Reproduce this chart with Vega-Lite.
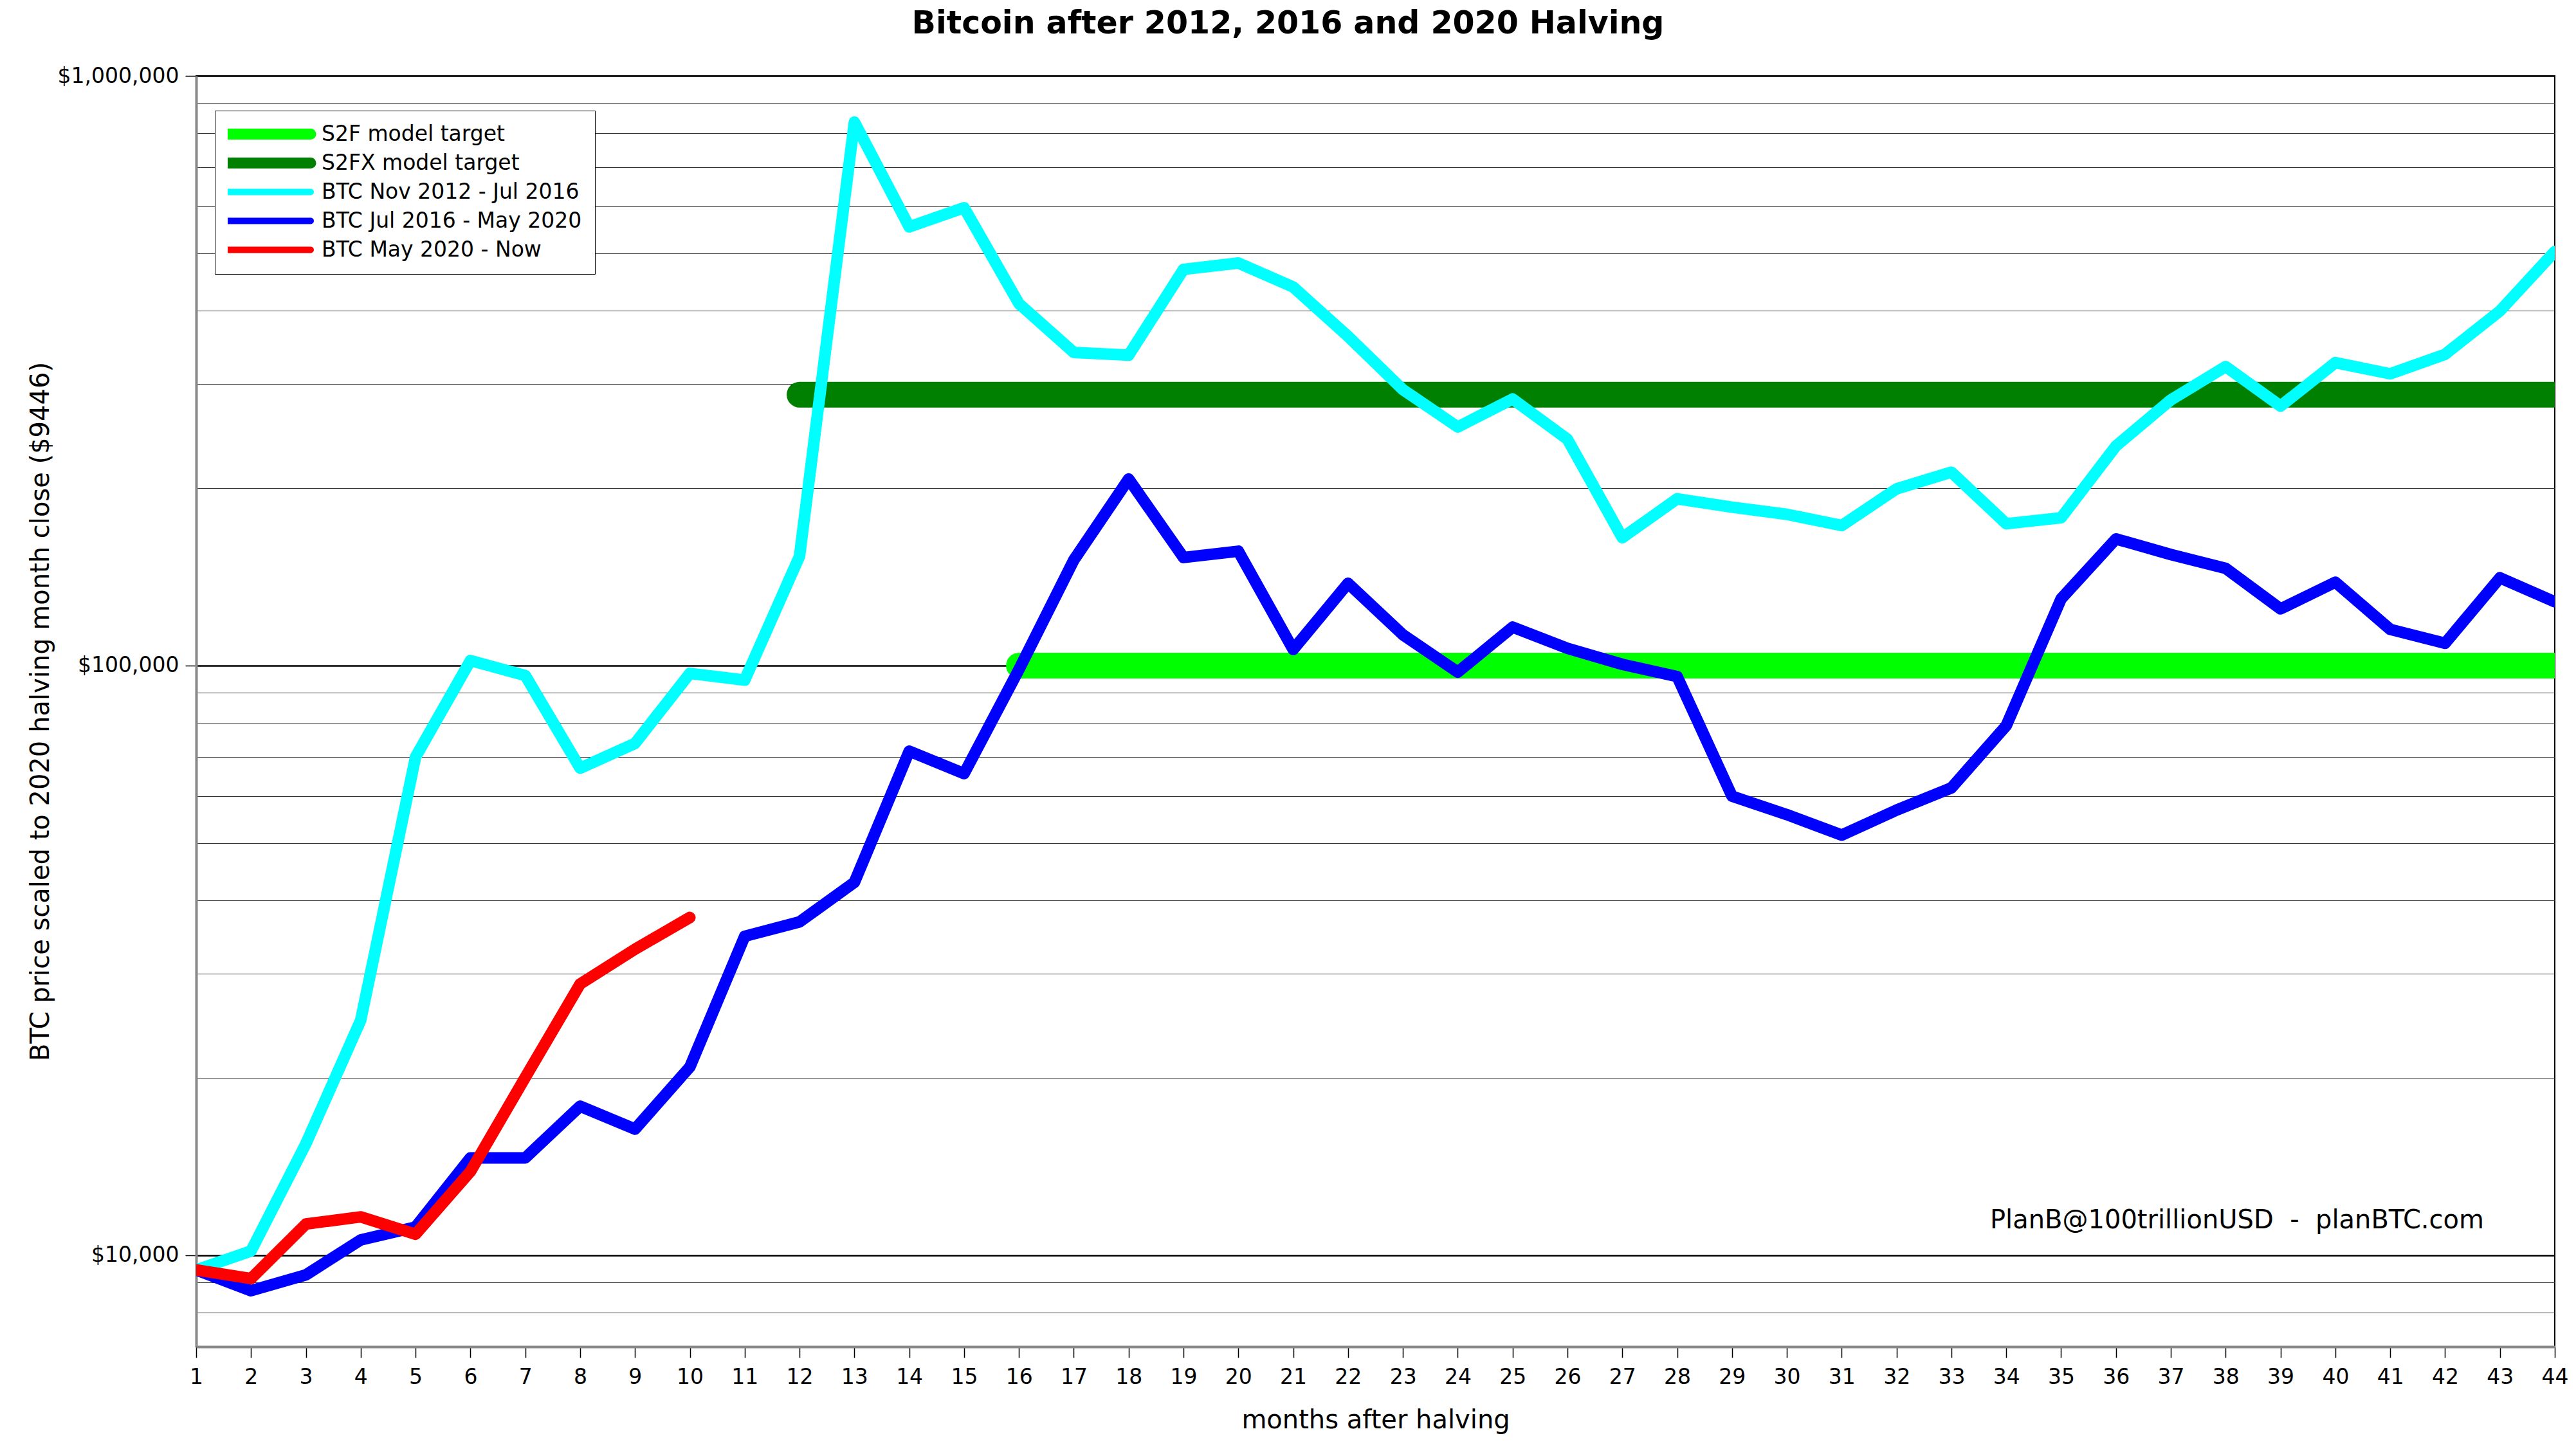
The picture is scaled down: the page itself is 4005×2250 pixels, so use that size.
{
  "$schema": "https://vega.github.io/schema/vega-lite/v6.json",
  "width": 3667,
  "height": 1976,
  "autosize": {"type": "none"},
  "padding": {"left": 305, "top": 118, "right": 33, "bottom": 156},
  "background": "white",
  "title": {"text": "Bitcoin after 2012, 2016 and 2020 Halving", "fontSize": 49, "font": "DejaVu Sans", "fontWeight": "bold", "anchor": "middle", "offset": 40, "dx": -136, "color": "#000"},
  "config": {"view": {"stroke": "#000", "strokeWidth": 2}, "font": "DejaVu Sans"},
  "datasets": {
    "targets": [
      {"series": "S2F model target", "month": 16, "price": 100000},
      {"series": "S2F model target", "month": 44, "price": 100000},
      {"series": "S2FX model target", "month": 12, "price": 288000},
      {"series": "S2FX model target", "month": 44, "price": 288000}
    ],
    "btc": [
      {"series": "BTC Nov 2012 - Jul 2016", "month": 1, "price": 9446},
      {"series": "BTC Nov 2012 - Jul 2016", "month": 2, "price": 10170},
      {"series": "BTC Nov 2012 - Jul 2016", "month": 3, "price": 15460},
      {"series": "BTC Nov 2012 - Jul 2016", "month": 4, "price": 25050},
      {"series": "BTC Nov 2012 - Jul 2016", "month": 5, "price": 70000},
      {"series": "BTC Nov 2012 - Jul 2016", "month": 6, "price": 102000},
      {"series": "BTC Nov 2012 - Jul 2016", "month": 7, "price": 96200},
      {"series": "BTC Nov 2012 - Jul 2016", "month": 8, "price": 67000},
      {"series": "BTC Nov 2012 - Jul 2016", "month": 9, "price": 73800},
      {"series": "BTC Nov 2012 - Jul 2016", "month": 10, "price": 97000},
      {"series": "BTC Nov 2012 - Jul 2016", "month": 11, "price": 94500},
      {"series": "BTC Nov 2012 - Jul 2016", "month": 12, "price": 153300},
      {"series": "BTC Nov 2012 - Jul 2016", "month": 13, "price": 835000},
      {"series": "BTC Nov 2012 - Jul 2016", "month": 14, "price": 554600},
      {"series": "BTC Nov 2012 - Jul 2016", "month": 15, "price": 597600},
      {"series": "BTC Nov 2012 - Jul 2016", "month": 16, "price": 411000},
      {"series": "BTC Nov 2012 - Jul 2016", "month": 17, "price": 339700},
      {"series": "BTC Nov 2012 - Jul 2016", "month": 18, "price": 336000},
      {"series": "BTC Nov 2012 - Jul 2016", "month": 19, "price": 469700},
      {"series": "BTC Nov 2012 - Jul 2016", "month": 20, "price": 481600},
      {"series": "BTC Nov 2012 - Jul 2016", "month": 21, "price": 438500},
      {"series": "BTC Nov 2012 - Jul 2016", "month": 22, "price": 361700},
      {"series": "BTC Nov 2012 - Jul 2016", "month": 23, "price": 293700},
      {"series": "BTC Nov 2012 - Jul 2016", "month": 24, "price": 253900},
      {"series": "BTC Nov 2012 - Jul 2016", "month": 25, "price": 283200},
      {"series": "BTC Nov 2012 - Jul 2016", "month": 26, "price": 242000},
      {"series": "BTC Nov 2012 - Jul 2016", "month": 27, "price": 164800},
      {"series": "BTC Nov 2012 - Jul 2016", "month": 28, "price": 191800},
      {"series": "BTC Nov 2012 - Jul 2016", "month": 29, "price": 185600},
      {"series": "BTC Nov 2012 - Jul 2016", "month": 30, "price": 180500},
      {"series": "BTC Nov 2012 - Jul 2016", "month": 31, "price": 172800},
      {"series": "BTC Nov 2012 - Jul 2016", "month": 32, "price": 199400},
      {"series": "BTC Nov 2012 - Jul 2016", "month": 33, "price": 212800},
      {"series": "BTC Nov 2012 - Jul 2016", "month": 34, "price": 174000},
      {"series": "BTC Nov 2012 - Jul 2016", "month": 35, "price": 178100},
      {"series": "BTC Nov 2012 - Jul 2016", "month": 36, "price": 235700},
      {"series": "BTC Nov 2012 - Jul 2016", "month": 37, "price": 282200},
      {"series": "BTC Nov 2012 - Jul 2016", "month": 38, "price": 321400},
      {"series": "BTC Nov 2012 - Jul 2016", "month": 39, "price": 275500},
      {"series": "BTC Nov 2012 - Jul 2016", "month": 40, "price": 326400},
      {"series": "BTC Nov 2012 - Jul 2016", "month": 41, "price": 312500},
      {"series": "BTC Nov 2012 - Jul 2016", "month": 42, "price": 337200},
      {"series": "BTC Nov 2012 - Jul 2016", "month": 43, "price": 399400},
      {"series": "BTC Nov 2012 - Jul 2016", "month": 44, "price": 503600},
      {"series": "BTC Jul 2016 - May 2020", "month": 1, "price": 9446},
      {"series": "BTC Jul 2016 - May 2020", "month": 2, "price": 8710},
      {"series": "BTC Jul 2016 - May 2020", "month": 3, "price": 9265},
      {"series": "BTC Jul 2016 - May 2020", "month": 4, "price": 10620},
      {"series": "BTC Jul 2016 - May 2020", "month": 5, "price": 11170},
      {"series": "BTC Jul 2016 - May 2020", "month": 6, "price": 14630},
      {"series": "BTC Jul 2016 - May 2020", "month": 7, "price": 14630},
      {"series": "BTC Jul 2016 - May 2020", "month": 8, "price": 17900},
      {"series": "BTC Jul 2016 - May 2020", "month": 9, "price": 16370},
      {"series": "BTC Jul 2016 - May 2020", "month": 10, "price": 20860},
      {"series": "BTC Jul 2016 - May 2020", "month": 11, "price": 34750},
      {"series": "BTC Jul 2016 - May 2020", "month": 12, "price": 36760},
      {"series": "BTC Jul 2016 - May 2020", "month": 13, "price": 42900},
      {"series": "BTC Jul 2016 - May 2020", "month": 14, "price": 71600},
      {"series": "BTC Jul 2016 - May 2020", "month": 15, "price": 65600},
      {"series": "BTC Jul 2016 - May 2020", "month": 16, "price": 98500},
      {"series": "BTC Jul 2016 - May 2020", "month": 17, "price": 151000},
      {"series": "BTC Jul 2016 - May 2020", "month": 18, "price": 207200},
      {"series": "BTC Jul 2016 - May 2020", "month": 19, "price": 152500},
      {"series": "BTC Jul 2016 - May 2020", "month": 20, "price": 156300},
      {"series": "BTC Jul 2016 - May 2020", "month": 21, "price": 106500},
      {"series": "BTC Jul 2016 - May 2020", "month": 22, "price": 137900},
      {"series": "BTC Jul 2016 - May 2020", "month": 23, "price": 112800},
      {"series": "BTC Jul 2016 - May 2020", "month": 24, "price": 97500},
      {"series": "BTC Jul 2016 - May 2020", "month": 25, "price": 116200},
      {"series": "BTC Jul 2016 - May 2020", "month": 26, "price": 107000},
      {"series": "BTC Jul 2016 - May 2020", "month": 27, "price": 100500},
      {"series": "BTC Jul 2016 - May 2020", "month": 28, "price": 95800},
      {"series": "BTC Jul 2016 - May 2020", "month": 29, "price": 60050},
      {"series": "BTC Jul 2016 - May 2020", "month": 30, "price": 55890},
      {"series": "BTC Jul 2016 - May 2020", "month": 31, "price": 51600},
      {"series": "BTC Jul 2016 - May 2020", "month": 32, "price": 56880},
      {"series": "BTC Jul 2016 - May 2020", "month": 33, "price": 62040},
      {"series": "BTC Jul 2016 - May 2020", "month": 34, "price": 79100},
      {"series": "BTC Jul 2016 - May 2020", "month": 35, "price": 129800},
      {"series": "BTC Jul 2016 - May 2020", "month": 36, "price": 164000},
      {"series": "BTC Jul 2016 - May 2020", "month": 37, "price": 154300},
      {"series": "BTC Jul 2016 - May 2020", "month": 38, "price": 146200},
      {"series": "BTC Jul 2016 - May 2020", "month": 39, "price": 124800},
      {"series": "BTC Jul 2016 - May 2020", "month": 40, "price": 138500},
      {"series": "BTC Jul 2016 - May 2020", "month": 41, "price": 115200},
      {"series": "BTC Jul 2016 - May 2020", "month": 42, "price": 109100},
      {"series": "BTC Jul 2016 - May 2020", "month": 43, "price": 140900},
      {"series": "BTC Jul 2016 - May 2020", "month": 44, "price": 128300},
      {"series": "BTC May 2020 - Now", "month": 1, "price": 9446},
      {"series": "BTC May 2020 - Now", "month": 2, "price": 9130},
      {"series": "BTC May 2020 - Now", "month": 3, "price": 11300},
      {"series": "BTC May 2020 - Now", "month": 4, "price": 11620},
      {"series": "BTC May 2020 - Now", "month": 5, "price": 10860},
      {"series": "BTC May 2020 - Now", "month": 6, "price": 13870},
      {"series": "BTC May 2020 - Now", "month": 7, "price": 20030},
      {"series": "BTC May 2020 - Now", "month": 8, "price": 28850},
      {"series": "BTC May 2020 - Now", "month": 9, "price": 33040},
      {"series": "BTC May 2020 - Now", "month": 10, "price": 37400}
    ],
    "note": [
      {"month": 42.71, "price": 11450, "label": "PlanB@100trillionUSD \u00a0-\u00a0 planBTC.com"}
    ]
  },
  "encoding": {
    "x": {
      "field": "month", "type": "quantitative",
      "scale": {"domain": [1, 44], "nice": false, "zero": false},
      "axis": {
        "values": [1,2,3,4,5,6,7,8,9,10,11,12,13,14,15,16,17,18,19,20,21,22,23,24,25,26,27,28,29,30,31,32,33,34,35,36,37,38,39,40,41,42,43,44],
        "format": "d", "grid": false, "tickSize": 17, "tickWidth": 1.5, "tickColor": "#000",
        "labelFontSize": 33, "labelFont": "DejaVu Sans", "labelColor": "#000", "labelPadding": 14, "labelFlush": false, "labelOverlap": false,
        "title": "months after halving", "titleFontSize": 40, "titleFont": "DejaVu Sans", "titleFontWeight": "normal", "titleColor": "#000", "titlePadding": 30,
        "domainColor": "#888", "domainWidth": 4
      }
    },
    "y": {
      "field": "price", "type": "quantitative",
      "scale": {"type": "log", "domain": [7000, 1000000], "nice": false},
      "axis": {
        "values": [8000,9000,10000,20000,30000,40000,50000,60000,70000,80000,90000,100000,200000,300000,400000,500000,600000,700000,800000,900000,1000000],
        "labelExpr": "(datum.value == 10000 || datum.value == 100000 || datum.value == 1000000) ? '$' + format(datum.value, ',') : ''",
        "grid": true,
        "gridColor": {"condition": {"test": "datum.value == 10000 || datum.value == 100000 || datum.value == 1000000", "value": "#000"}, "value": "#333"},
        "gridWidth": {"condition": {"test": "datum.value == 10000 || datum.value == 100000 || datum.value == 1000000", "value": 2.5}, "value": 1.2},
        "tickColor": {"condition": {"test": "datum.value == 10000 || datum.value == 100000 || datum.value == 1000000", "value": "#000"}, "value": "transparent"},
        "tickSize": 17, "tickWidth": 1.5,
        "labelFontSize": 33, "labelFont": "DejaVu Sans", "labelColor": "#000", "labelPadding": 10, "labelOverlap": false, "labelLimit": 500,
        "title": "BTC price scaled to 2020 halving month close ($9446)", "titleFontSize": 40, "titleFont": "DejaVu Sans", "titleFontWeight": "normal", "titleColor": "#000", "titlePadding": 22,
        "domainColor": "#888", "domainWidth": 4
      }
    }
  },
  "layer": [
    {
      "data": {"name": "targets"},
      "mark": {"type": "line", "strokeWidth": 40, "strokeCap": "round", "strokeJoin": "round", "clip": true},
      "encoding": {
        "color": {
          "field": "series", "type": "nominal",
          "scale": {"domain": ["S2F model target", "S2FX model target", "BTC Nov 2012 - Jul 2016", "BTC Jul 2016 - May 2020", "BTC May 2020 - Now"], "range": ["#00ff00", "#008000", "#00ffff", "#0000ff", "#ff0000"]},
          "legend": {
            "title": null, "orient": "none", "legendX": 29, "legendY": 54,
            "symbolType": "stroke", "symbolSize": 17956, "symbolStrokeWidth": 10, "symbolOffset": 45.5,
            "labelFontSize": 33, "labelFont": "DejaVu Sans", "labelColor": "#000", "labelOffset": 67.5, "labelLimit": 1000,
            "clipHeight": 33, "rowPadding": 11, "padding": 20, "strokeColor": "#000", "fillColor": "#fff",
            "encode": {"symbols": {"update": {"strokeWidth": {"signal": "indexof(['S2F model target', 'S2FX model target'], datum.value) >= 0 ? 17 : 10"}, "strokeCap": {"value": "round"}}}}
          }
        },
        "order": {"field": "month", "type": "quantitative"}
      }
    },
    {
      "data": {"name": "btc"},
      "mark": {"type": "line", "strokeWidth": 18, "strokeCap": "round", "strokeJoin": "round", "clip": true},
      "encoding": {
        "color": {"field": "series", "type": "nominal"},
        "order": {"field": "month", "type": "quantitative"}
      }
    },
    {
      "data": {"name": "note"},
      "mark": {"type": "text", "align": "right", "baseline": "middle", "fontSize": 40, "font": "DejaVu Sans", "color": "#000"},
      "encoding": {"text": {"field": "label", "type": "nominal"}}
    }
  ]
}
